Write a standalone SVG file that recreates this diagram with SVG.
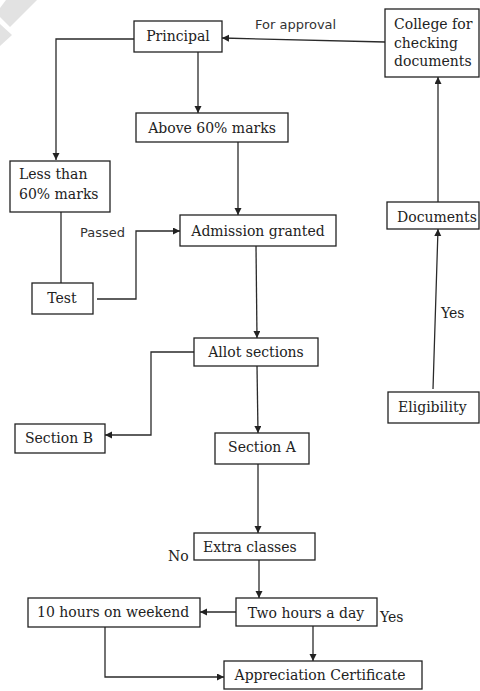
<svg xmlns="http://www.w3.org/2000/svg" width="480" height="691" viewBox="0 0 480 691">
<style>
.box{fill:#fff;stroke:#222;stroke-width:1.3}
.t{font-family:"DejaVu Serif","Liberation Serif",serif;font-size:14px;fill:#222}
.s{font-family:"DejaVu Sans","Liberation Sans",sans-serif;font-size:13px;fill:#333}
.c{fill:none;stroke:#2a2a2a;stroke-width:1.3}
.m{text-anchor:middle}
</style>
<defs>
<marker id="a" markerUnits="userSpaceOnUse" markerWidth="8" markerHeight="8" refX="7" refY="3.5" orient="auto">
<path d="M0,0 L7,3.5 L0,7 z" fill="#222"/>
</marker>
</defs>
<rect width="480" height="691" fill="#fff"/>
<g id="watermark" fill="#e2e2e2">
<polygon points="6,0 37,0 10,27 0,17 0,8"/>
<polygon points="0,24 12,35 0,46"/>
</g>
<g id="connectors">
<polyline class="c" points="134,39 56,39 56,160" marker-end="url(#a)"/>
<line class="c" x1="198" y1="52" x2="198" y2="113" marker-end="url(#a)"/>
<line class="c" x1="238" y1="142" x2="238" y2="215" marker-end="url(#a)"/>
<line class="c" x1="61" y1="212" x2="61" y2="283"/>
<polyline class="c" points="97,299 136,299 136,231 180,231" marker-end="url(#a)"/>
<line class="c" x1="256" y1="246" x2="257" y2="338" marker-end="url(#a)"/>
<polyline class="c" points="194,352 151,352 151,435 105,435" marker-end="url(#a)"/>
<line class="c" x1="257" y1="366" x2="258" y2="433" marker-end="url(#a)"/>
<line class="c" x1="258" y1="464" x2="258" y2="533" marker-end="url(#a)"/>
<line class="c" x1="259" y1="560" x2="259" y2="598" marker-end="url(#a)"/>
<line class="c" x1="236" y1="612" x2="200" y2="612" marker-end="url(#a)"/>
<polyline class="c" points="105,627 105,677 224,677" marker-end="url(#a)"/>
<line class="c" x1="313" y1="626" x2="313" y2="661" marker-end="url(#a)"/>
<line class="c" x1="385" y1="42" x2="222" y2="38" marker-end="url(#a)"/>
<line class="c" x1="438" y1="202" x2="438" y2="77" marker-end="url(#a)"/>
<line class="c" x1="433" y1="389" x2="438" y2="229" marker-end="url(#a)"/>
<text class="s" x="255" y="29">For approval</text>
<text class="s" x="80" y="237">Passed</text>
<text class="t" x="441" y="318">Yes</text>
<text class="t" x="168" y="561">No</text>
<text class="t" x="380" y="622">Yes</text>
</g>
<g id="principal"><rect class="box" x="134" y="21" width="88" height="31"/><text class="t m" x="178" y="41">Principal</text></g>
<g id="college"><rect class="box" x="385" y="9" width="94" height="68"/><text class="t" x="394" y="29">College for</text><text class="t" x="394" y="48">checking</text><text class="t" x="394" y="66">documents</text></g>
<g id="above"><rect class="box" x="136" y="113" width="152" height="29"/><text class="t m" x="212" y="133">Above 60% marks</text></g>
<g id="less"><rect class="box" x="10" y="161" width="100" height="51"/><text class="t" x="19" y="179">Less than</text><text class="t" x="19" y="199">60% marks</text></g>
<g id="documents"><rect class="box" x="387" y="202" width="92" height="27"/><text class="t" x="397" y="222">Documents</text></g>
<g id="admission"><rect class="box" x="180" y="215" width="156" height="31"/><text class="t m" x="258" y="236">Admission granted</text></g>
<g id="test"><rect class="box" x="32" y="283" width="61" height="31"/><text class="t m" x="62" y="303">Test</text></g>
<g id="allot"><rect class="box" x="194" y="338" width="124" height="28"/><text class="t m" x="256" y="357">Allot sections</text></g>
<g id="eligibility"><rect class="box" x="388" y="392" width="91" height="31"/><text class="t" x="398" y="412">Eligibility</text></g>
<g id="sectionb"><rect class="box" x="15" y="424" width="90" height="29"/><text class="t m" x="59" y="443">Section B</text></g>
<g id="sectiona"><rect class="box" x="215" y="433" width="94" height="31"/><text class="t m" x="262" y="452">Section A</text></g>
<g id="extra"><rect class="box" x="194" y="533" width="121" height="27"/><text class="t" x="203" y="552">Extra classes</text></g>
<g id="weekend"><rect class="box" x="28" y="598" width="172" height="29"/><text class="t" x="37" y="617">10 hours on weekend</text></g>
<g id="twohours"><rect class="box" x="236" y="598" width="141" height="28"/><text class="t m" x="306" y="618">Two hours a day</text></g>
<g id="certificate"><rect class="box" x="224" y="661" width="198" height="28"/><text class="t m" x="320" y="680">Appreciation Certificate</text></g>
</svg>
